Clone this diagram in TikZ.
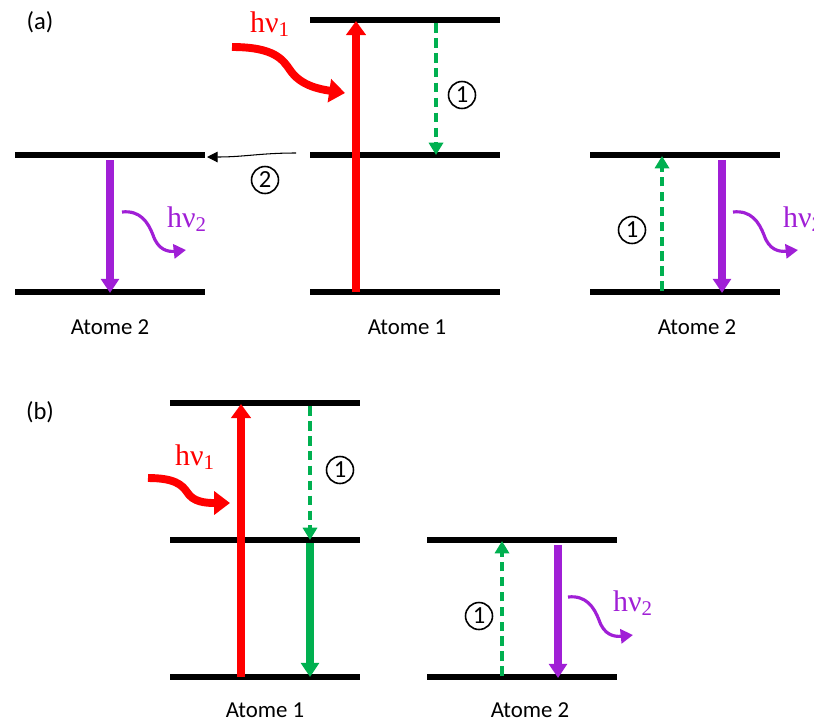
\documentclass[tikz,border=0pt]{standalone}
\usepackage{fontspec}
\setmainfont{Carlito}
\newfontfamily\hnufont{Liberation Serif}
\usetikzlibrary{arrows.meta}
\definecolor{pred}{HTML}{FF0000}
\definecolor{pgreen}{HTML}{00B050}
\definecolor{ppurple}{HTML}{A01FD6}

\tikzset{
  lvl/.style={line width=3.4pt},
  absorb/.style={pred, line width=5pt, -{Triangle[length=8pt,width=11pt]}},
  emit/.style={ppurple, line width=4pt, -{Triangle[length=8pt,width=10pt]}},
  decay/.style={pgreen, line width=4pt, -{Triangle[length=8pt,width=10pt]}},
  transfer/.style={pgreen, line width=1.8pt, dash pattern=on 5.5pt off 3pt, -{Triangle[length=7pt,width=8pt]}},
  photonin/.style={pred, line width=4.5pt, -{Triangle[length=9pt,width=13pt]}},
  photonout/.style={ppurple, line width=1.8pt, -{Triangle[length=7pt,width=8pt]}},
  hnu/.style={font=\fontsize{17}{20}\selectfont\hnufont},
  num/.style={circle, draw, line width=0.9pt, inner sep=0pt, minimum size=0.54cm, font=\fontsize{14}{16}\selectfont},
  atom/.style={font=\fontsize{13}{15}\selectfont},
  panel/.style={font=\fontsize{14}{16}\selectfont}
}

\begin{document}
\begin{tikzpicture}[x=0.02cm, y=-0.02cm]
  \useasboundingbox (0,0) rectangle (814,721);

  % Niveaux d'energie
  \foreach \xa/\y in {310/20, 310/155, 310/292, 15/155, 15/292, 590/155, 590/292,
                      170/403, 170/540, 170/677, 427/540, 427/677} {
    \draw[lvl] (\xa,\y) -- ++(190,0);
  }

  % (a)
  \node[panel] (pa) at (40,22) {(a)};

  % Atome 1 (a)
  \coordinate (a1bas) at (356,292);
  \coordinate (a1haut) at (356,21);
  \coordinate (a1d) at (436,23);
  \coordinate (a1m) at (436,155);
  \draw[absorb] (a1bas) -- (a1haut);
  \draw[transfer] (a1d) -- (a1m);
  \node[num] (n1a) at (462,95) {1};
  \node[hnu, pred] (hnu1a) at (270,24) {hν\textsubscript{1}};
  \coordinate (p1s) at (232,47);
  \coordinate (p1e) at (345,93);
  \draw[photonin] (p1s) .. controls (275,47) and (283,60) .. (290,70)
                        .. controls (300,85) and (318,89) .. (p1e);
  \node[atom] (at1a) at (407,327) {Atome 1};

  % transfert vers atome 2 (gauche)
  \coordinate (tr2s) at (296,153);
  \coordinate (tr2e) at (207,157);
  \draw[line width=0.6pt, -{Triangle[length=6pt,width=6pt]}] (tr2s) .. controls (260,153) and (245,157) .. (tr2e);
  \node[num] (n2a) at (265,180) {2};

  % Atome 2 gauche
  \coordinate (a2ghaut) at (110,160);
  \coordinate (a2gbas) at (110,293);
  \draw[emit] (a2ghaut) -- (a2gbas);
  \coordinate (p2gs) at (122,212);
  \coordinate (p2ge) at (186,250);
  \draw[photonout] (p2gs) .. controls (140,210) and (148,222) .. (153,235)
                         .. controls (158,250) and (168,252) .. (p2ge);
  \node[hnu, ppurple] (hnu2g) at (187,219) {hν\textsubscript{2}};
  \node[atom] (at2g) at (110,327) {Atome 2};

  % Atome 2 droite
  \coordinate (a2dbas) at (662,291);
  \coordinate (a2dhaut) at (662,156);
  \draw[transfer] (a2dbas) -- (a2dhaut);
  \node[num] (n1d) at (632,230) {1};
  \coordinate (a2dh) at (722,160);
  \coordinate (a2db) at (722,293);
  \draw[emit] (a2dh) -- (a2db);
  \coordinate (p2ds) at (733,212);
  \coordinate (p2de) at (798,250);
  \draw[photonout] (p2ds) .. controls (751,210) and (759,222) .. (764,235)
                         .. controls (769,250) and (779,252) .. (p2de);
  \node[hnu, ppurple, anchor=west] (hnu2d) at (777,219) {hν\textsubscript{2}};
  \node[atom] (at2d) at (697,327) {Atome 2};

  % (b)
  \node[panel] (pb) at (40,412) {(b)};

  % Atome 1 (b)
  \coordinate (b1bas) at (241,677);
  \coordinate (b1haut) at (241,404);
  \draw[absorb] (b1bas) -- (b1haut);
  \coordinate (b1d) at (310,406);
  \coordinate (b1m) at (310,540);
  \draw[transfer] (b1d) -- (b1m);
  \coordinate (b1v) at (310,543);
  \coordinate (b1f) at (310,677);
  \draw[decay] (b1v) -- (b1f);
  \node[num] (n1b) at (340,470) {1};
  \node[hnu, pred] (hnu1b) at (195,457) {hν\textsubscript{1}};
  \coordinate (p1bs) at (148,478);
  \coordinate (p1be) at (230,503);
  \draw[photonin] (p1bs) .. controls (175,478) and (182,485) .. (187,492)
                         .. controls (193,502) and (205,503) .. (p1be);
  \node[atom] (at1b) at (265,710) {Atome 1};

  % Atome 2 (b)
  \coordinate (b2bas) at (502,676);
  \coordinate (b2haut) at (502,541);
  \draw[transfer] (b2bas) -- (b2haut);
  \node[num] (n1c) at (479,616) {1};
  \coordinate (b2h) at (558,545);
  \coordinate (b2b) at (558,678);
  \draw[emit] (b2h) -- (b2b);
  \coordinate (p2bs) at (568,597);
  \coordinate (p2be) at (633,635);
  \draw[photonout] (p2bs) .. controls (586,595) and (594,607) .. (599,620)
                         .. controls (604,635) and (614,637) .. (p2be);
  \node[hnu, ppurple] (hnu2b) at (633,603) {hν\textsubscript{2}};
  \node[atom] (at2b) at (530,710) {Atome 2};
\end{tikzpicture}
\end{document}
